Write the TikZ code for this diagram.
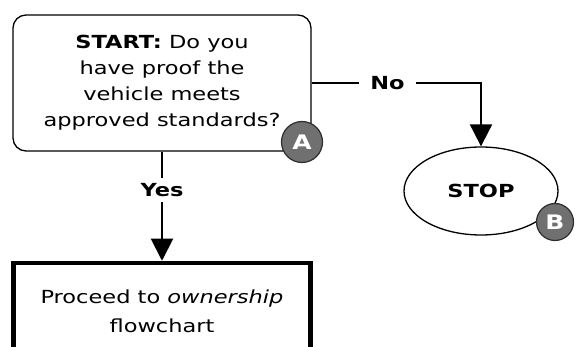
\documentclass[tikz,border=0pt]{standalone}
\usepackage{fontspec}
\setmainfont{DejaVu Sans}[FakeStretch=1.25]
\usetikzlibrary{shapes.geometric,arrows.meta}
\definecolor{badgegray}{RGB}{112,112,112}
\definecolor{badgeline}{RGB}{45,45,45}
\begin{document}
\begin{tikzpicture}[x=1pt, y=-1pt,
		every node/.style={font=\fontsize{18}{26}\selectfont, align=center},
		question/.style={draw, rounded corners=13pt, line width=1.3pt, minimum width=298pt, minimum height=136pt, inner sep=0pt},
		action/.style={draw, line width=4.5pt, minimum width=297pt, minimum height=96pt, inner sep=0pt, font=\fontsize{18}{29}\selectfont},
		terminal/.style={draw, ellipse, line width=1.3pt, minimum width=154pt, minimum height=88pt, inner sep=0pt},
		badge/.style={draw=badgeline, fill=badgegray, circle, line width=1.2pt, minimum size=41pt, inner sep=0pt, text=white, font=\fontsize{20}{20}\selectfont\bfseries},
		answer/.style={fill=white, font=\fontsize{18}{20}\selectfont\bfseries, inner sep=5pt},
		flow/.style={line width=2pt, -{Triangle[length=22pt, width=22pt]}}]
	\clip (0,0) rectangle (576,347);
	\fill[white] (0,0) rectangle (576,347);

	\node[question] at (162,83) (start) {\textbf{START:} Do you\\have proof the\\vehicle meets\\approved standards?};
	\node[action] at (162,311) (proceed) {Proceed to \textit{ownership}\\flowchart};
	\node[terminal] at (481,191) (stop) {\textbf{STOP}};

	\node[badge] at (302,142) (A) {A};
	\node[badge, minimum size=37pt] at (555,222) (B) {B};

	\draw[flow] (start.south) -- node[answer, pos=0.35] {Yes} (proceed.north);
	\draw[flow] (start.east) -| node[answer, pos=0.224, inner xsep=11pt] {No} (stop.north);
\end{tikzpicture}
\end{document}
